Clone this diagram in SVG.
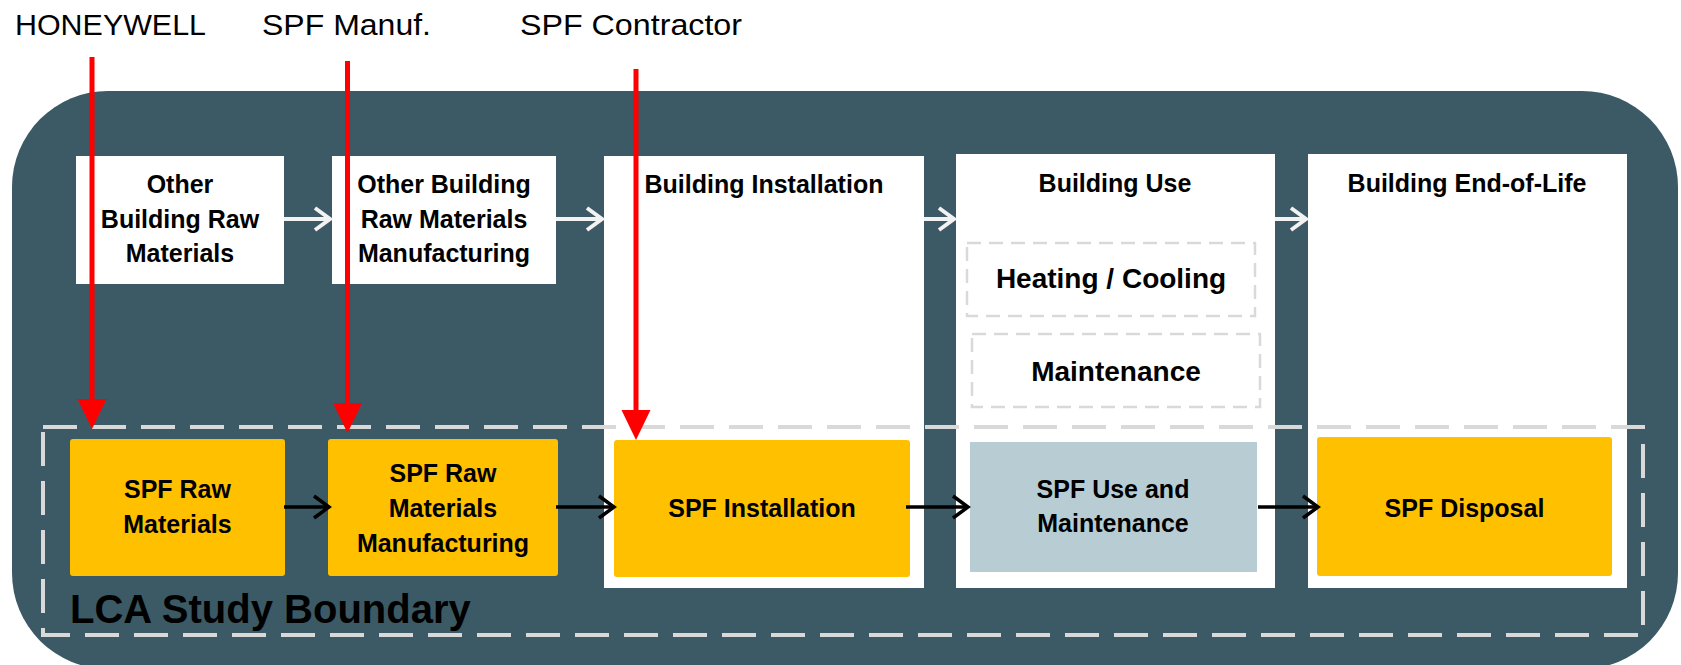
<svg xmlns="http://www.w3.org/2000/svg" width="1681" height="665" viewBox="0 0 1681 665">
  <style>
    .lbl { font-family: "Liberation Sans", Arial, sans-serif; fill: #000; }
    .actor { font-size: 30px; }
    .bold { font-weight: bold; font-size: 25px; text-anchor: middle; }
    .sub { font-weight: bold; font-size: 28px; text-anchor: middle; }
    .stage { fill: #FFFFFF; }
    .spf { fill: #FFC000; }
    .use { fill: #B7CDD3; }
    .dash { fill: none; stroke: #D9D9D9; stroke-width: 2.5; stroke-dasharray: 14 8; }
    .white-arrow { stroke: #F2F2F2; stroke-width: 4; fill: none; marker-end: url(#chevWhite); }
    .black-arrow { stroke: #000; stroke-width: 3.5; fill: none; marker-end: url(#chevBlack); }
    .red-arrow { stroke: #FF0000; stroke-width: 5; fill: none; marker-end: url(#triRed); }
  </style>
  <defs>
    <marker id="chevWhite" markerUnits="userSpaceOnUse" markerWidth="16" markerHeight="22" refX="15" refY="11" orient="auto" overflow="visible">
      <path d="M0,0 L15,11 L0,22" fill="none" stroke="#F2F2F2" stroke-width="4"/>
    </marker>
    <marker id="chevBlack" markerUnits="userSpaceOnUse" markerWidth="16" markerHeight="22" refX="15" refY="11" orient="auto" overflow="visible">
      <path d="M0,0 L15,11 L0,22" fill="none" stroke="#000" stroke-width="3.5"/>
    </marker>
    <marker id="triRed" markerUnits="userSpaceOnUse" markerWidth="30" markerHeight="29" refX="4" refY="14.5" orient="auto" overflow="visible">
      <path d="M0,0 L30,14.5 L0,29 Z" fill="#FF0000"/>
    </marker>
  </defs>

  <!-- dark backdrop panel -->
  <rect id="backdrop" x="12" y="91" width="1666" height="578" rx="96" ry="96" fill="#3C5A65"/>

  <!-- actor labels -->
  <g id="actors">
    <text class="lbl actor" x="15" y="35" textLength="191" lengthAdjust="spacingAndGlyphs">HONEYWELL</text>
    <text class="lbl actor" x="262" y="35" textLength="169" lengthAdjust="spacingAndGlyphs">SPF Manuf.</text>
    <text class="lbl actor" x="520" y="35" textLength="222" lengthAdjust="spacingAndGlyphs">SPF Contractor</text>
  </g>

  <!-- building life-cycle stages -->
  <g id="other-raw">
    <rect class="stage" x="76" y="156" width="208" height="128"/>
    <text class="lbl bold" x="180" y="193">Other</text>
    <text class="lbl bold" x="180" y="228">Building Raw</text>
    <text class="lbl bold" x="180" y="262">Materials</text>
  </g>
  <g id="other-manuf">
    <rect class="stage" x="332" y="156" width="224" height="128"/>
    <text class="lbl bold" x="444" y="193">Other Building</text>
    <text class="lbl bold" x="444" y="228">Raw Materials</text>
    <text class="lbl bold" x="444" y="262">Manufacturing</text>
  </g>
  <g id="building-installation">
    <rect class="stage" x="604" y="156" width="320" height="432"/>
    <text class="lbl bold" x="764" y="193">Building Installation</text>
  </g>
  <g id="building-use">
    <rect class="stage" x="956" y="154" width="319" height="434"/>
    <text class="lbl bold" x="1115" y="192">Building Use</text>
  </g>
  <g id="heating-cooling">
    <rect class="dash" x="967" y="243" width="288" height="73"/>
    <text class="lbl sub" x="1111" y="288">Heating / Cooling</text>
  </g>
  <g id="maintenance">
    <rect class="dash" x="972" y="334" width="288" height="73"/>
    <text class="lbl sub" x="1116" y="381">Maintenance</text>
  </g>
  <g id="building-eol">
    <rect class="stage" x="1308" y="154" width="319" height="434"/>
    <text class="lbl bold" x="1467" y="192">Building End-of-Life</text>
  </g>

  <!-- study boundary -->
  <g id="lca-boundary">
    <rect x="43" y="427" width="1600" height="208" fill="none" stroke="#D9D9D9" stroke-width="4" stroke-dasharray="34 15"/>
    <text class="lbl" x="70" y="623" font-size="40" font-weight="bold">LCA Study Boundary</text>
  </g>

  <!-- SPF stages -->
  <g id="spf-raw">
    <rect class="spf" x="70" y="439" width="215" height="137" rx="3"/>
    <text class="lbl bold" x="177.5" y="498">SPF Raw</text>
    <text class="lbl bold" x="177.5" y="533">Materials</text>
  </g>
  <g id="spf-manuf">
    <rect class="spf" x="328" y="439" width="230" height="137" rx="3"/>
    <text class="lbl bold" x="443" y="482">SPF Raw</text>
    <text class="lbl bold" x="443" y="517">Materials</text>
    <text class="lbl bold" x="443" y="552">Manufacturing</text>
  </g>
  <g id="spf-installation">
    <rect class="spf" x="614" y="440" width="296" height="137" rx="3"/>
    <text class="lbl bold" x="762" y="517">SPF Installation</text>
  </g>
  <g id="spf-use">
    <rect class="use" x="970" y="442" width="287" height="130"/>
    <text class="lbl bold" x="1113" y="498">SPF Use and</text>
    <text class="lbl bold" x="1113" y="532">Maintenance</text>
  </g>
  <g id="spf-disposal">
    <rect class="spf" x="1317" y="437" width="295" height="139" rx="3"/>
    <text class="lbl bold" x="1464.5" y="517">SPF Disposal</text>
  </g>

  <!-- connectors -->
  <g id="connectors">
    <line class="white-arrow" x1="284" y1="219" x2="330" y2="219"/>
    <line class="white-arrow" x1="556" y1="219" x2="602" y2="219"/>
    <line class="white-arrow" x1="924" y1="219" x2="954" y2="219"/>
    <line class="white-arrow" x1="1275" y1="219" x2="1306" y2="219"/>

    <line class="black-arrow" x1="284" y1="507" x2="329" y2="507"/>
    <line class="black-arrow" x1="556" y1="507" x2="614" y2="507"/>
    <line class="black-arrow" x1="906" y1="507" x2="968" y2="507"/>
    <line class="black-arrow" x1="1258" y1="507" x2="1318" y2="507"/>

    <line class="red-arrow" x1="92" y1="57" x2="92" y2="403"/>
    <line class="red-arrow" x1="347.5" y1="61" x2="347.5" y2="407"/>
    <line class="red-arrow" x1="636" y1="69" x2="636" y2="414"/>
  </g>
</svg>
